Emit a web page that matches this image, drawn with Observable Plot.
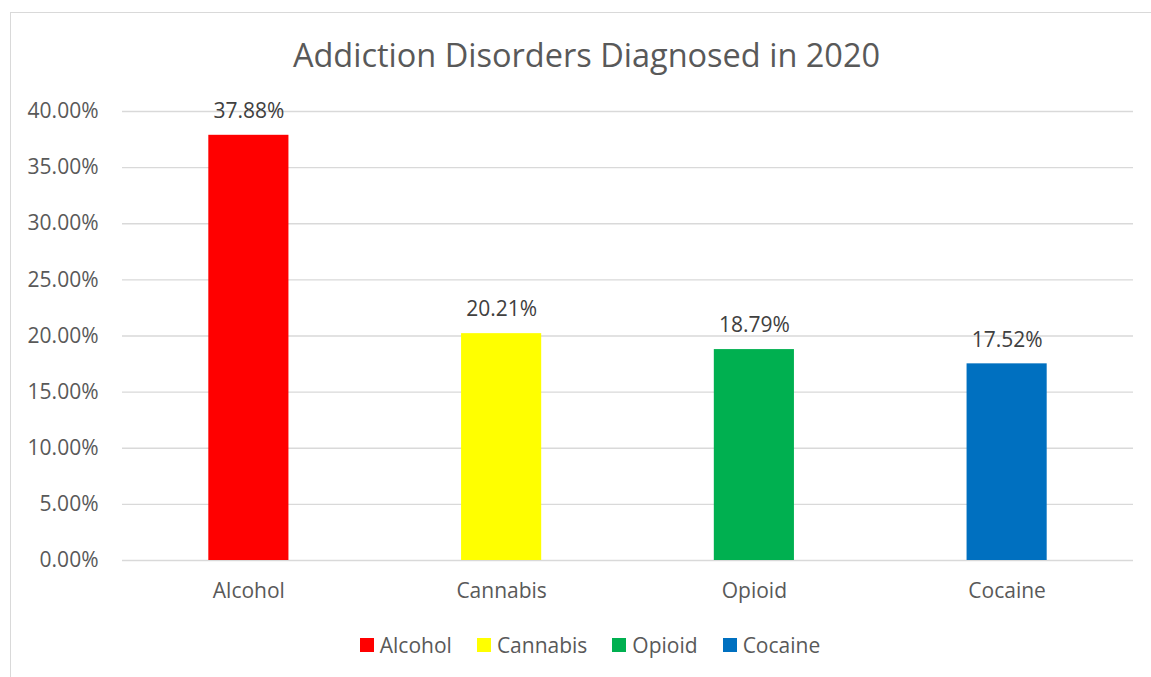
<!DOCTYPE html>
<html>
<head>
<meta charset="utf-8">
<script src="https://cdn.jsdelivr.net/npm/d3@7"></script>
<script src="https://cdn.jsdelivr.net/npm/@observablehq/plot@0.6"></script>
<style>
  body { margin: 0; background: #fff; font-family: "Open Sans", sans-serif; }
  #wrap { position: relative; width: 1151px; height: 677px; overflow: hidden; }
  #frame { position: absolute; left: 10px; top: 12px; width: 1160px; height: 700px; border: 1px solid #d9d9d9; box-sizing: border-box; }
  #title { position: absolute; left: 0; width: 1173px; top: 33px; text-align: center; font-size: 32.5px; line-height: 44px; color: #595959; }
  #chart { position: absolute; left: 0; top: 0; }
  #legend { position: absolute; left: 0; width: 1180px; top: 630px; text-align: center; font-size: 21px; color: #595959; white-space: nowrap; }
  .item { display: inline-flex; align-items: center; margin: 0 12.5px; }
  .sw { width: 14px; height: 14px; display: inline-block; margin-right: 6px; }
</style>
</head>
<body>
<div id="wrap">
  <div id="frame"></div>
  <div id="title">Addiction Disorders Diagnosed in 2020</div>
  <div id="chart"></div>
  <div id="legend"></div>
</div>
<script>
const categories = ["Alcohol", "Cannabis", "Opioid", "Cocaine"];
const values = [0.3788, 0.2021, 0.1879, 0.1752];
const colors = ["#FF0000", "#FFFF00", "#00B050", "#0070C0"];
const yTicks = [0, 0.05, 0.10, 0.15, 0.20, 0.25, 0.30, 0.35, 0.40];

const data = categories.map((c, i) => ({category: c, value: values[i]}));
const fmt = d => (d * 100).toFixed(2) + "%";

const chart = Plot.plot({
  width: 1151,
  height: 620,
  marginTop: 111,
  marginBottom: 60,
  marginLeft: 122,
  marginRight: 18,
  style: {fontFamily: "Open Sans, sans-serif", fontSize: "21px", color: "#595959", background: "transparent"},
  x: {domain: categories, paddingInner: 0.683, paddingOuter: 0.3415, round: false, label: null},
  y: {domain: [0, 0.40], label: null},
  color: {domain: categories, range: colors},
  marks: [
    Plot.gridY(yTicks, {stroke: "#d9d9d9", strokeOpacity: 1, strokeWidth: 1.3}),
    Plot.axisY(yTicks, {tickFormat: fmt, tickSize: 0, tickPadding: 24, fontSize: 21, fill: "#595959", label: null}),
    Plot.axisX({tickSize: 0, tickPadding: 23, fontSize: 21, fill: "#595959", label: null}),
    Plot.barY(data, {x: "category", y: "value", fill: "category"}),
    Plot.text(data, {x: "category", y: "value", text: d => fmt(d.value), dy: -24, fontSize: 21, fill: "#404040"})
  ]
});
document.getElementById("chart").appendChild(chart);

const legend = document.getElementById("legend");
categories.forEach((c, i) => {
  const item = document.createElement("span");
  item.className = "item";
  const sw = document.createElement("span");
  sw.className = "sw";
  sw.style.background = colors[i];
  item.appendChild(sw);
  item.appendChild(document.createTextNode(c));
  legend.appendChild(item);
});
</script>
</body>
</html>
